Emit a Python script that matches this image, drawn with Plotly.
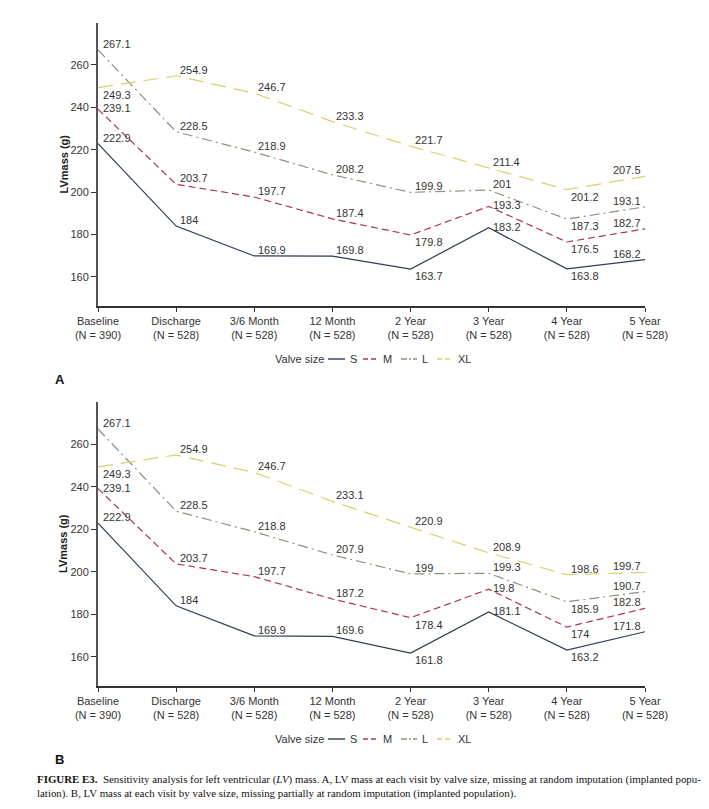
import plotly.graph_objects as go

# ---------------- data ----------------
categories = ["Baseline", "Discharge", "3/6 Month", "12 Month", "2 Year", "3 Year", "4 Year", "5 Year"]
n_counts = [390, 528, 528, 528, 528, 528, 528, 528]
y_ticks = [160, 180, 200, 220, 240, 260]
series_names = ["S", "M", "L", "XL"]

# Panel A: missing at random imputation
a_S = [222.9, 184, 169.9, 169.8, 163.7, 183.2, 163.8, 168.2]
a_M = [239.1, 203.7, 197.7, 187.4, 179.8, 193.3, 176.5, 182.7]
a_L = [267.1, 228.5, 218.9, 208.2, 199.9, 201, 187.3, 193.1]
a_XL = [249.3, 254.9, 246.7, 233.3, 221.7, 211.4, 201.2, 207.5]

# Panel B: missing partially at random imputation
b_S = [222.9, 184, 169.9, 169.6, 161.8, 181.1, 163.2, 171.8]
b_M = [239.1, 203.7, 197.7, 187.2, 178.4, 191.8, 174, 182.8]
b_L = [267.1, 228.5, 218.8, 207.9, 199, 199.3, 185.9, 190.7]
b_XL = [249.3, 254.9, 246.7, 233.1, 220.9, 208.9, 198.6, 199.7]
# label text as printed in the original (one misprint kept)
b_M_text = ["239.1", "203.7", "197.7", "187.2", "178.4", "19.8", "174", "182.8"]

tick_labels = [f"{c}<br>(N = {n})" for c, n in zip(categories, n_counts)]

# ---------------- styles ----------------
W, H = 709, 809
FONT = "Liberation Sans, Arial, sans-serif"
colors = {"S": "#2c3c58", "M": "#b23352", "L": "#8d927c", "XL": "#dccf6e"}
dashes = {"S": "solid", "M": "7px,4px", "L": "10px,4px,2px,4px", "XL": "15px,8px"}
leg_dashes = {"S": "solid", "M": "5px,3px", "L": "6px,2px,2px,2px", "XL": "5px,3px"}

# label placement: t = above-right, m = right, b = below-right, tl = above-left
pos_a = {
    "S": ["t", "t", "t", "t", "b", "m", "b", "tl"],
    "M": ["m", "t", "t", "t", "b", "m", "b", "tl"],
    "L": ["t", "t", "t", "t", "t", "t", "b", "tl"],
    "XL": ["b", "t", "t", "t", "t", "t", "b", "tl"],
}
pos_b = {
    "S": ["t", "t", "t", "t", "b", "m", "b", "tl"],
    "M": ["m", "t", "t", "t", "b", "m", "b", "tl"],
    "L": ["t", "t", "t", "t", "t", "t", "b", "tl"],
    "XL": ["b", "t", "t", "t", "t", "t", "t", "tl"],
}


def fmt(v):
    s = f"{v:.1f}"
    return s[:-2] if s.endswith(".0") else s


def px(x):
    return x / W


def py(y):
    return 1 - y / H


panels = [
    dict(data={"S": a_S, "M": a_M, "L": a_L, "XL": a_XL},
         text={"S": None, "M": None, "L": None, "XL": None},
         pos=pos_a, xa="x", ya="y", top=23, bottom=306, letter="A"),
    dict(data={"S": b_S, "M": b_M, "L": b_L, "XL": b_XL},
         text={"S": None, "M": b_M_text, "L": None, "XL": None},
         pos=pos_b, xa="x2", ya="y2", top=402, bottom=686, letter="B"),
]

fig = go.Figure()
annotations = []
shapes = []
small = dict(family=FONT, size=11, color="#333333")

for p in panels:
    for name in series_names:
        vals = p["data"][name]
        fig.add_trace(go.Scatter(
            x=categories, y=vals, mode="lines", name=name,
            xaxis=p["xa"], yaxis=p["ya"], showlegend=False,
            line=dict(color=colors[name], width=1.2, dash=dashes[name]),
            hoverinfo="skip",
        ))
        texts = p["text"][name] or [fmt(v) for v in vals]
        for i, (c, v, t) in enumerate(zip(categories, vals, texts)):
            code = p["pos"][name][i]
            ann = dict(x=c, y=v, xref=p["xa"], yref=p["ya"], text=t, showarrow=False,
                       font=small)
            if code == "tl":
                ann.update(xanchor="right", yanchor="bottom", xshift=-2, yshift=-2)
            elif code == "t":
                ann.update(xanchor="left", yanchor="bottom", xshift=2, yshift=-2)
            elif code == "m":
                ann.update(xanchor="left", yanchor="middle", xshift=2, yshift=1)
            else:
                ann.update(xanchor="left", yanchor="top", xshift=2, yshift=1)
            if i == 0:
                ann["xshift"] = 3
            annotations.append(ann)

    # y-axis title
    annotations.append(dict(
        x=px(63), y=py((p["top"] + p["bottom"]) / 2), xref="paper", yref="paper",
        xanchor="center", yanchor="middle",
        text="<b>LVmass (g)</b>", textangle=-90, showarrow=False,
        font=dict(family=FONT, size=11, color="#222222")))
    # panel letter
    annotations.append(dict(
        x=px(53), y=py(p["bottom"] + 73), xref="paper", yref="paper",
        xanchor="left", yanchor="middle",
        text="<b>" + p["letter"] + "</b>", showarrow=False,
        font=dict(family=FONT, size=13, color="#111111")))
    # legend
    ly = py(p["bottom"] + 53)
    annotations.append(dict(
        x=px(273), y=ly, xref="paper", yref="paper", xanchor="left", yanchor="middle",
        text="Valve size", showarrow=False, font=small))
    leg_x = {"S": (328, 345), "M": (363, 378), "L": (401, 417), "XL": (437, 453)}
    for name in series_names:
        x0, x1 = leg_x[name]
        shapes.append(dict(type="line", xref="paper", yref="paper",
                           x0=px(x0), x1=px(x1), y0=ly, y1=ly,
                           line=dict(color=colors[name], width=1.4, dash=leg_dashes[name])))
        annotations.append(dict(
            x=px(x1 + 3), y=ly, xref="paper", yref="paper", xanchor="left", yanchor="middle",
            text=name, showarrow=False, font=small))

# caption
annotations.append(dict(
    x=px(35), y=py(771), xref="paper", yref="paper", xanchor="left", yanchor="top", align="left",
    text=("<b>FIGURE E3.</b>  Sensitivity analysis for left ventricular (<i>LV</i>) mass. A, LV mass at each visit by valve size, "
          "missing at random imputation (implanted popu-<br>lation). B, LV mass at each visit by valve size, "
          "missing partially at random imputation (implanted population)."),
    showarrow=False, font=dict(family="Liberation Serif, Times New Roman, serif", size=10.9, color="#111111")))

xdom = [px(98), px(645)]
axis_common_x = dict(
    type="category", categoryorder="array", categoryarray=categories,
    range=[0, 7], autorange=False, domain=xdom, showgrid=False, zeroline=False,
    showline=True, linecolor="#333333", linewidth=1.5, automargin=False,
    ticks="outside", ticklen=4, tickcolor="#333333", tickwidth=1,
    tickmode="array", tickvals=categories, ticktext=tick_labels,
    tickfont=small,
)
axis_common_y = dict(
    range=[146.3, 279.8], autorange=False, showgrid=False, zeroline=False,
    showline=True, linecolor="#555555", linewidth=2, automargin=False,
    ticks="outside", ticklen=5, tickcolor="#333333", tickwidth=1,
    tickvals=y_ticks, tickfont=small,
)

fig.update_layout(
    width=W, height=H, autosize=False, margin=dict(l=0, r=0, t=0, b=0, pad=0, autoexpand=False),
    paper_bgcolor="white", plot_bgcolor="white",
    xaxis=dict(axis_common_x, anchor="y"),
    yaxis=dict(axis_common_y, domain=[py(306), py(23)], anchor="x"),
    xaxis2=dict(axis_common_x, anchor="y2"),
    yaxis2=dict(axis_common_y, domain=[py(686), py(402)], anchor="x2"),
    annotations=annotations, shapes=shapes,
)

fig.write_html("out.html", config={"responsive": False, "displayModeBar": False},
               post_script="document.body.style.margin='0px';document.body.style.overflow='hidden';")
